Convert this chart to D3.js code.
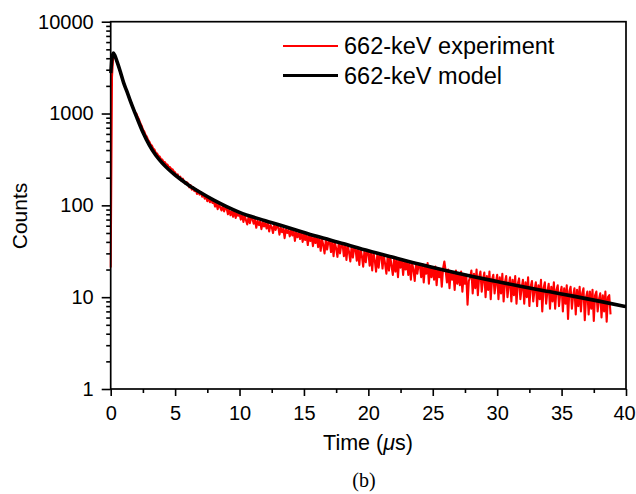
<!DOCTYPE html>
<html>
<head>
<meta charset="utf-8">
<script src="https://cdn.jsdelivr.net/npm/d3@7/dist/d3.min.js"></script>
<style>
  body { margin: 0; background: #fff; }
  text { font-family: Arial, "Liberation Sans", Helvetica, sans-serif; fill: #000; }
</style>
</head>
<body>
<svg id="chart" width="636" height="494"></svg>
<script>
// model curve (µs, counts)
const modelTime = [0, 0.1, 0.2, 0.3, 0.5, 0.75, 1, 1.25, 1.5, 2, 2.5, 3, 3.5, 4, 4.5, 5, 6, 7, 8, 9, 10,
  12, 14, 16, 18, 20, 22, 24, 26, 28, 30, 32, 34, 36, 38, 40];
const modelCounts = [2750, 4000, 4550, 4350, 3650, 2850, 2170, 1750, 1400, 925, 626, 453, 351, 289, 246, 214, 168, 137, 114, 97, 84,
  68, 56, 46, 38.5, 32, 27, 22.8, 19.5, 16.9, 14.8, 13, 11.5, 10.2, 9, 7.9];

// experiment histogram, 0.1 µs bins starting at 0
const expStart = 0;
const expBin = 0.1;
const expCounts = [
  21, 2500, 4400, 4250, 3950, 3650, 3300, 2950, 2650, 2400,
  2200, 1990, 1820, 1660, 1520, 1420, 1300, 1190, 1100, 1020,
  1000, 915, 860, 782, 738, 668, 640, 586, 561, 515,
  494, 458, 447, 414, 404, 373, 368, 345, 341, 319,
  316, 298, 297, 280, 278, 262, 262, 248, 247, 234,
  229, 207, 218, 196, 206, 184, 195, 180, 171, 179,
  173, 157, 166, 148, 158, 143, 150, 133, 144, 131,
  139, 124, 133, 118, 126, 111, 121, 108, 117, 106,
  110, 97, 106, 91, 103, 95, 88, 99, 86, 94,
  93, 80, 90, 78, 86, 75, 88, 73, 83, 77,
  81, 70, 79, 66, 77, 69, 62, 75, 64, 73,
  72, 63, 70, 57, 68, 61, 67, 55, 66, 59,
  65, 56, 64, 52, 61, 58, 50, 62, 54, 59,
  59, 48, 57, 51, 56, 44, 55, 50, 54, 46,
  54, 47, 53, 41, 52, 45, 50, 43, 51, 40,
  49, 42, 48, 37, 47, 41, 46, 36, 45, 39,
  45, 35, 44, 32, 43, 37, 30, 42, 33, 40,
  41, 31, 40, 28, 39.5, 34, 27.5, 38.5, 30, 37,
  37.5, 28, 37, 25.5, 36.5, 31, 24.5, 35.5, 27, 34.5,
  34.5, 25, 34, 22.5, 33.5, 28, 21.5, 32.5, 24, 31.5,
  31.5, 22, 31, 19.5, 30.5, 25, 19, 30, 21, 29,
  29, 20.5, 28.5, 23, 18, 28, 19.5, 27.5, 22, 17.5,
  26.5, 19, 26, 16.5, 26, 21, 25.5, 17.5, 25, 20,
  24.5, 17.5, 24, 15.5, 23.5, 20, 15, 23, 18, 22.5,
  22.5, 16.5, 23, 14.5, 22, 18, 23.5, 14, 21.5, 16.5,
  21, 15.5, 21.5, 13.5, 20.5, 16.5, 20, 13, 20.5, 24.5,
  19.5, 14.5, 20, 12.5, 19, 15.5, 18.5, 12, 19.5, 14,
  18, 13.5, 19, 11.5, 17.5, 14, 17.5, 8.3, 15, 16.5,
  19.5, 11, 18, 12.5, 20, 10.5, 16.5, 19, 11.5, 15.5,
  18.5, 10, 17, 12, 19, 9.5, 15.5, 17.5, 11, 14.5,
  17.5, 9.5, 16.5, 11, 18, 9, 14.5, 17, 10, 13.5,
  16.5, 9, 15.5, 10.5, 17, 8.5, 14, 16, 9.5, 12.5,
  15.5, 8.5, 14.5, 10, 16.5, 8, 13, 15, 9, 12,
  14.5, 8, 13.5, 9.5, 15.5, 7, 12.5, 14.5, 8.5, 11.5,
  14, 7.5, 13, 9, 14.5, 7.5, 12, 13.5, 8, 11,
  13, 7, 12.5, 8.5, 13.5, 5.8, 11.5, 13, 7.5, 10.5,
  12.5, 6.5, 12, 8, 13, 7, 11, 12.5, 5.6, 10,
  11.5, 6.5, 11.5, 7.5, 12, 5.5, 10.5, 11.5, 7, 9.5,
  11, 6, 10.5, 7, 11.5, 5.4, 10, 10.5, 6.5
];

const xTicks = [0, 5, 10, 15, 20, 25, 30, 35, 40];
const xMinorTicks = [2.5, 7.5, 12.5, 17.5, 22.5, 27.5, 32.5, 37.5];
const yTicks = [1, 10, 100, 1000, 10000];
const seriesNames = ["662-keV experiment", "662-keV model"];
const seriesColors = ["#ff0000", "#000000"];

const svg = d3.select("#chart");
const plotLeft = 110.7, plotRight = 626, plotTop = 21.7, plotBottom = 389;

const x = d3.scaleLinear().domain([0, 40]).range([plotLeft, plotRight]);
const y = d3.scaleLog().domain([1, 10000]).range([plotBottom, plotTop]);

// clip slightly wider on the left so the rise at t=0 shows full width
svg.append("defs").append("clipPath").attr("id", "plot-clip")
  .append("rect")
  .attr("x", plotLeft - 1.5).attr("y", plotTop)
  .attr("width", plotRight - plotLeft + 1.5).attr("height", plotBottom - plotTop);

// data lines
const expData = expCounts.map((c, i) => ({t: expStart + i * expBin, c: c}));
const modelData = modelTime.map((t, i) => ({t: t, c: modelCounts[i]}));

const plot = svg.append("g").attr("clip-path", "url(#plot-clip)");

plot.append("path")
  .datum(expData)
  .attr("fill", "none")
  .attr("stroke", seriesColors[0])
  .attr("stroke-width", 2.1)
  .attr("stroke-linejoin", "round")
  .attr("d", d3.line().x(d => x(d.t)).y(d => y(d.c)));

plot.append("path")
  .datum(modelData)
  .attr("fill", "none")
  .attr("stroke", seriesColors[1])
  .attr("stroke-width", 3.6)
  .attr("stroke-linejoin", "round")
  .attr("d", d3.line().curve(d3.curveMonotoneX).x(d => x(d.t)).y(d => y(d.c)));

// axes
const xAxis = svg.append("g").attr("transform", `translate(0,${plotBottom})`)
  .call(d3.axisBottom(x).tickValues(xTicks).tickSize(7).tickPadding(10).tickFormat(d3.format("d")));
svg.append("g").attr("transform", `translate(0,${plotBottom})`)
  .call(d3.axisBottom(x).tickValues(xMinorTicks).tickSize(4).tickFormat(""));

const yMinor = y.ticks().filter(v => yTicks.indexOf(v) < 0);
svg.append("g").attr("transform", `translate(${plotLeft},0)`)
  .call(d3.axisLeft(y).tickValues(yTicks).tickSize(9).tickPadding(8).tickFormat(d3.format("d")));
svg.append("g").attr("transform", `translate(${plotLeft},0)`)
  .call(d3.axisLeft(y).tickValues(yMinor).tickSize(4.5).tickFormat(""));

svg.selectAll(".domain").remove();
svg.selectAll(".tick line").attr("stroke", "#000").attr("stroke-width", 1.6);
svg.selectAll(".tick text").style("font-size", "20px").attr("fill", "#000");
// last x label sits at the page edge
xAxis.selectAll(".tick text").filter(d => d === 40).attr("dx", "-2");

// frame
svg.append("rect")
  .attr("x", plotLeft).attr("y", plotTop)
  .attr("width", plotRight - plotLeft).attr("height", plotBottom - plotTop)
  .attr("fill", "none").attr("stroke", "#000").attr("stroke-width", 1.7);

// axis titles
svg.append("text")
  .attr("transform", `translate(27,216) rotate(-90)`)
  .attr("text-anchor", "middle")
  .style("font-size", "21px")
  .text("Counts");

const xt = svg.append("text")
  .attr("x", 368).attr("y", 450)
  .attr("text-anchor", "middle")
  .style("font-size", "21.5px");
xt.append("tspan").text("Time (");
xt.append("tspan").style("font-style", "italic").text("\u03bc");
xt.append("tspan").text("s)");

svg.append("text")
  .attr("x", 364).attr("y", 487)
  .attr("text-anchor", "middle")
  .style("font-family", "'Liberation Serif', 'Times New Roman', serif")
  .style("font-size", "20px")
  .text("(b)");

// legend
const legend = svg.append("g");
seriesNames.forEach((name, i) => {
  const ly = 46 + i * 29.5;
  legend.append("line")
    .attr("x1", 283).attr("x2", 338).attr("y1", ly).attr("y2", ly)
    .attr("stroke", seriesColors[i]).attr("stroke-width", i === 0 ? 2.2 : 3);
  legend.append("text")
    .attr("x", 344).attr("y", ly + 8)
    .style("font-size", "23.5px")
    .text(name);
});
</script>
</body>
</html>
